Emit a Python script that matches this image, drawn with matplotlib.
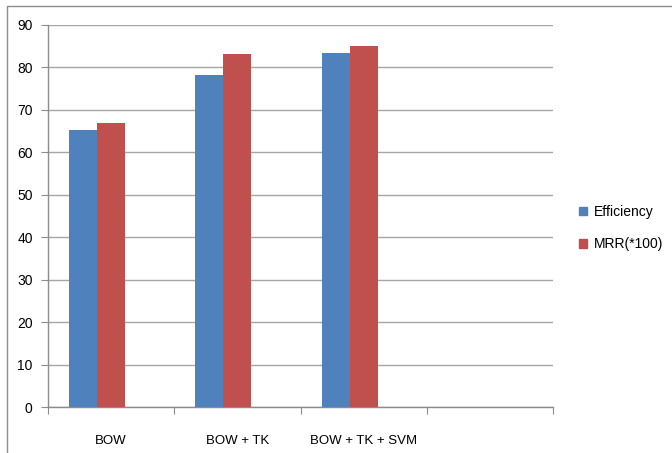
import matplotlib
matplotlib.use("Agg")
import matplotlib.pyplot as plt
from matplotlib.patches import Rectangle, Patch
import numpy as np

categories = ["BOW", "BOW + TK", "BOW + TK + SVM", ""]
efficiency = [65.3, 78.2, 83.4, np.nan]
mrr = [66.9, 83.1, 85.0, np.nan]
series_names = ["Efficiency", "MRR(*100)"]
colors = ["#4F81BD", "#C0504D"]
yticks = list(range(0, 91, 10))

plt.rcParams['font.family'] = ['Liberation Sans', 'DejaVu Sans']

fig = plt.figure(figsize=(6.72, 4.53), dpi=100)
# outer chart border
fig.patches.append(Rectangle((7/672, -0.1), 1.2, (453-6)/453 + 0.1, transform=fig.transFigure,
                             fill=False, edgecolor="#8C8C8C", linewidth=1.0))
ax = fig.add_axes([48/672, 1-407.3/453, (553-48)/672, (407.3-25)/453])

x = np.arange(len(categories))
w = 1/4.5
ax.bar(x - 1.5*w, efficiency, width=w, align='edge', color=colors[0], label=series_names[0], zorder=3)
ax.bar(x - 0.5*w, mrr, width=w, align='edge', color=colors[1], label=series_names[1], zorder=3)

ax.set_xlim(-0.5, len(categories) - 0.5)
ax.set_ylim(0, 90)
ax.set_yticks(yticks)
ax.yaxis.grid(True, color="#A6A6A6", linewidth=1.0, zorder=0)
ax.set_axisbelow(True)
for s in ["top", "right"]:
    ax.spines[s].set_visible(False)
for s in ["left", "bottom"]:
    ax.spines[s].set_color("#8C8C8C")
    ax.spines[s].set_linewidth(1.0)

ax.set_xticks(np.arange(len(categories) + 1) - 0.5)
ax.set_xticklabels([])
ax.set_xticks(x, minor=True)
ax.set_xticklabels(categories, minor=True, fontsize=9.5)
ax.tick_params(axis='x', which='major', length=5, color="#8C8C8C", direction='out')
ax.tick_params(axis='x', which='minor', length=0, pad=20)
ax.tick_params(axis='y', length=5, color="#8C8C8C", labelsize=10, pad=6)

handles = [Patch(color=c) for c in colors]
fig.legend(handles, series_names, loc='center left', bbox_to_anchor=(566/672, 1-228/453),
           frameon=False, fontsize=10, handlelength=0.6, handleheight=0.6,
           handletextpad=0.5, labelspacing=1.3)

fig.savefig("out.png", dpi=100)
